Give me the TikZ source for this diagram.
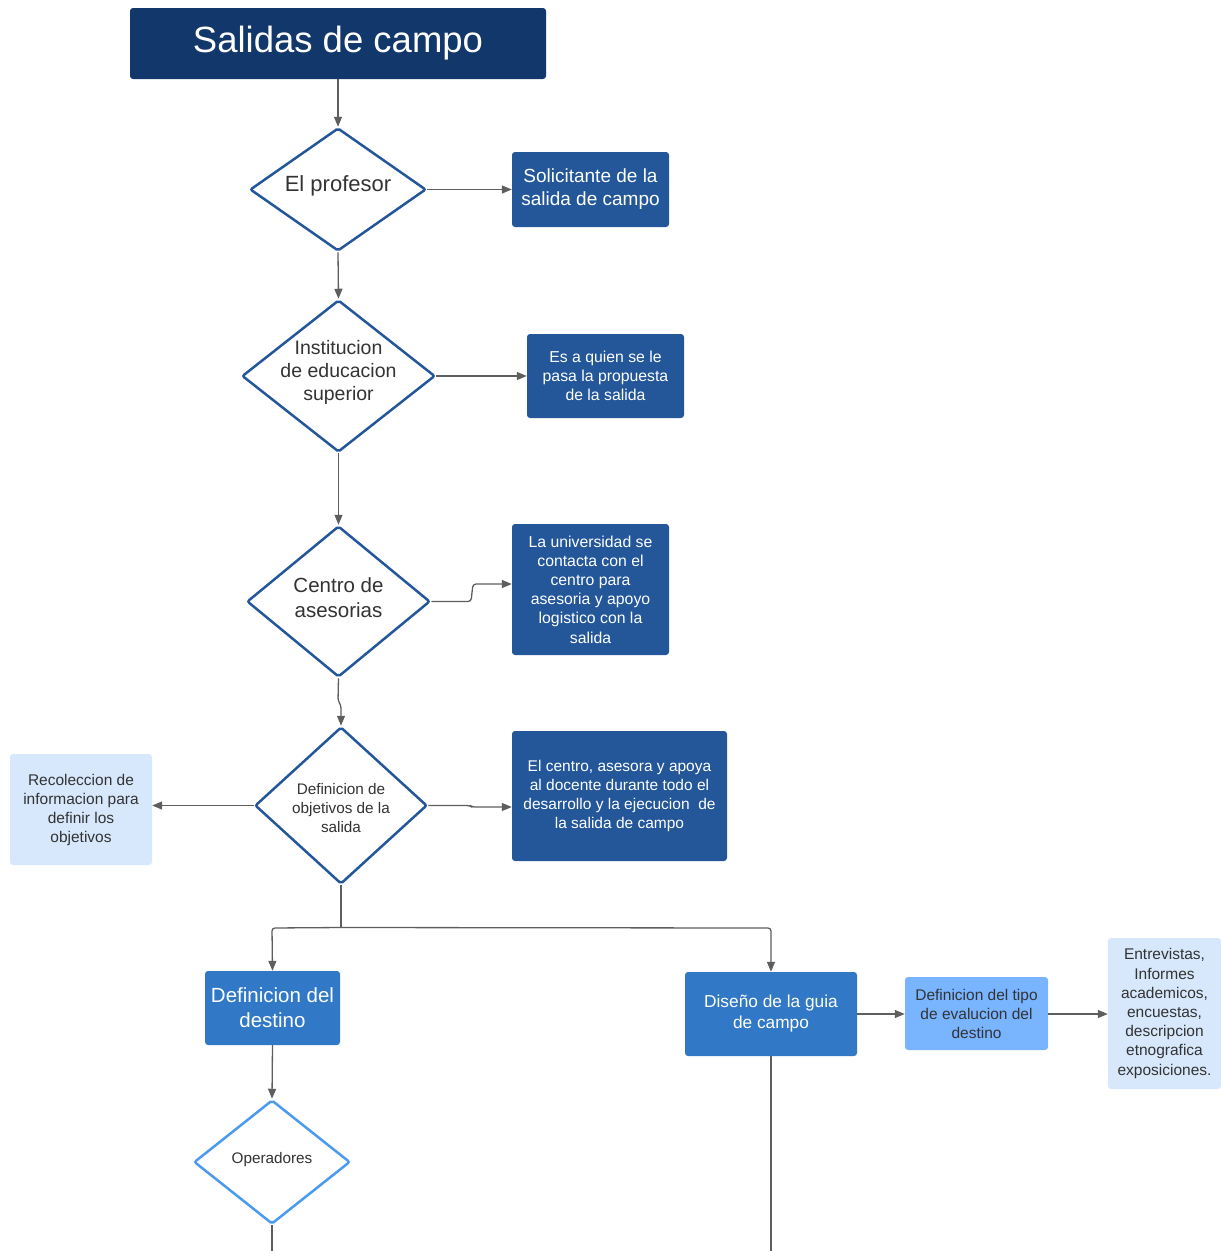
\documentclass[tikz,border=0pt]{standalone}
\usepackage{fontspec}
\setmainfont{Liberation Sans}
\usetikzlibrary{shapes.geometric,arrows.meta}
\definecolor{navy}{HTML}{12376A}
\definecolor{dkblue}{HTML}{23579A}
\definecolor{mdblue}{HTML}{3178C6}
\definecolor{ltblue}{HTML}{78B4FF}
\definecolor{pale}{HTML}{D7E8FC}
\definecolor{opblue}{HTML}{4A9BF0}
\definecolor{txt}{HTML}{333333}
\definecolor{conncol}{HTML}{5E5E5E}
\tikzset{
  box/.style={rectangle, rounded corners=3pt, inner sep=0pt, align=center},
  dkbox/.style={box, fill=dkblue, text=white},
  mdbox/.style={box, fill=mdblue, text=white},
  ltbox/.style={box, fill=ltblue, text=txt},
  palebox/.style={box, fill=pale, text=txt},
  dmd/.style={diamond, draw=dkblue, line width=2.5pt, fill=white, inner sep=0pt, rounded corners=2pt},
  dtext/.style={align=center, text=txt, inner sep=0pt},
  conn/.style={draw=conncol, line width=1.3pt, rounded corners=3pt},
  arr/.style={conn, -{Triangle[length=10pt,width=8pt]}},
}
\begin{document}
\begin{tikzpicture}[x=1pt,y=-1pt]
\useasboundingbox (0,0) rectangle (1221,1251);

% title
\node[box, fill=navy, text=white, minimum width=416pt, minimum height=71pt,
      font=\fontsize{36.5pt}{44pt}\selectfont] (title) at (338,43.5) {Salidas de campo};

% diamonds
\node[dmd, minimum width=176pt, minimum height=123pt] (d1) at (338,189.5) {};
\node[dtext, font=\fontsize{22pt}{26pt}\selectfont] (t1) at (338,186) {El profesor};

\node[dmd, minimum width=193pt, minimum height=152pt] (d2) at (338.5,376) {};
\node[dtext, font=\fontsize{19.5pt}{23pt}\selectfont] (t2) at (338.5,372) {Institucion\\de educacion\\superior};

\node[dmd, minimum width=183pt, minimum height=151pt] (d3) at (338.5,601.5) {};
\node[dtext, font=\fontsize{20.5pt}{25pt}\selectfont] (t3) at (338.5,598) {Centro de\\asesorias};

\node[dmd, minimum width=172pt, minimum height=157pt] (d4) at (341,805.5) {};
\node[dtext, font=\fontsize{15.3pt}{19pt}\selectfont] (t4) at (341,808) {Definicion de\\objetivos de la\\salida};

\node[dmd, draw=opblue, minimum width=156pt, minimum height=124pt] (op) at (272,1162) {};
\node[dtext, font=\fontsize{15.3pt}{19pt}\selectfont] (t5) at (272,1160) {Operadores};

% boxes
\node[dkbox, minimum width=157pt, minimum height=75pt, font=\fontsize{19pt}{23pt}\selectfont]
  (sol) at (590.5,189.5) {Solicitante de la\\salida de campo};
\node[dkbox, minimum width=157pt, minimum height=84pt, font=\fontsize{15.8pt}{19pt}\selectfont]
  (es) at (605.5,376) {Es a quien se le\\pasa la propuesta\\de la salida};
\node[dkbox, minimum width=157pt, minimum height=131pt, font=\fontsize{15.8pt}{19.2pt}\selectfont]
  (lau) at (590.5,589.5) {La universidad se\\contacta con el\\centro para\\asesoria y apoyo\\logistico con la\\salida};
\node[dkbox, minimum width=215pt, minimum height=130pt, font=\fontsize{15.5pt}{19.3pt}\selectfont]
  (elc) at (619.5,796) {El centro, asesora y apoya\\al docente durante todo el\\desarrollo y la ejecucion~ de\\la salida de campo};
\node[palebox, minimum width=142pt, minimum height=111pt, font=\fontsize{15.5pt}{19pt}\selectfont]
  (rec) at (81,809.5) {Recoleccion de\\informacion para\\definir los\\objetivos};
\node[mdbox, minimum width=135pt, minimum height=74pt, font=\fontsize{20.5pt}{25pt}\selectfont]
  (defd) at (272.5,1008) {Definicion del\\destino};
\node[mdbox, minimum width=172pt, minimum height=84pt, font=\fontsize{17.3pt}{21pt}\selectfont]
  (dis) at (771,1014) {Diseño de la guia\\de campo};
\node[ltbox, minimum width=143pt, minimum height=73pt, font=\fontsize{15.5pt}{19pt}\selectfont]
  (deft) at (976.5,1013.5) {Definicion del tipo\\de evalucion del\\destino};
\node[palebox, minimum width=113pt, minimum height=151pt, font=\fontsize{15.5pt}{19.2pt}\selectfont]
  (ent) at (1164.5,1013.5) {Entrevistas,\\Informes\\academicos,\\encuestas,\\descripcion\\etnografica\\exposiciones.};

% free ends
\coordinate (endop) at (272,1251);
\coordinate (enddis) at (771,1251);
\coordinate (split) at (341,927.5);

% connectors
\draw[arr] (title.south) -- (d1.north);
\draw[arr] (d1.east) -- (sol.west |- d1.east);
\draw[arr] (d1.south) -- (d2.north);
\draw[arr] (d2.east) -- (es.west |- d2.east);
\draw[arr] (d2.south) -- (d3.north);
\draw[arr] (d3.east) -- (471,601.5) -- (473,584) -- (lau.west |- 0,584);
\draw[arr] (d3.south) -- (338,701) -- (341,705) -- (d4.north);
\draw[arr] (d4.east) -- (470,805.5) -- (472,807) -- (elc.west |- 0,807);
\draw[arr] (d4.west) -- (rec.east |- d4.west);
\draw[conn] (d4.south) -- (split);
\draw[arr] (split) -- (272,928) -- (defd.north);
\draw[arr] (split) -- (771,928) -- (dis.north);
\draw[arr] (dis.east |- 0,1014) -- (deft.west |- 0,1014);
\draw[arr] (deft.east |- 0,1014) -- (ent.west |- 0,1014);
\draw[arr] (defd.south) -- (op.north);
\draw[conn] (op.south) -- (endop);
\draw[conn] (dis.south) -- (enddis);
\end{tikzpicture}
\end{document}
